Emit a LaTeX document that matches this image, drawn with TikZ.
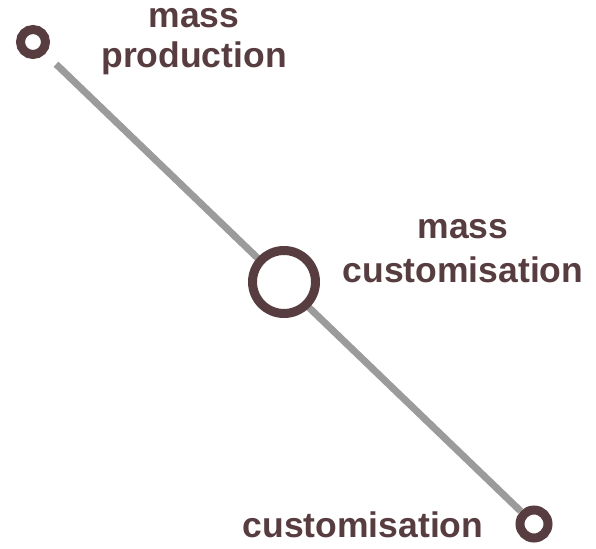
\documentclass[tikz,border=0pt]{standalone}
\usepackage{fontspec}
\setmainfont{Liberation Sans}
\usepackage{tikz}

\definecolor{ink}{HTML}{573C40}
\definecolor{track}{HTML}{9B9B9B}

\begin{document}
\begin{tikzpicture}[x=1pt,y=-1pt,
    ring/.style={circle,draw=ink,fill=white,line width=9pt,inner sep=0pt,minimum size=25pt},
    lab/.style={text=ink,font=\bfseries\fontsize{35.5}{44}\selectfont,align=center,inner sep=0pt}]

\useasboundingbox (0,0) rectangle (596,548);

\coordinate (0) at (33,42);
\coordinate (1) at (284,282);
\coordinate (2) at (534,524);

% small rings at both ends, the line runs between them
\node[ring] (p0) at (0) {};
\node[ring,minimum size=28pt] (p2) at (2) {};
\draw[track,line width=7pt,shorten <=15pt,shorten >=0pt] (p0) -- (p2);

% big ring sits on top of the line
\node[ring,minimum size=63pt] (p1) at (1) {};

\node[lab,anchor=base,font=\bfseries\fontsize{35.5}{40}\selectfont] (l0) at (194,68) {mass\\production};
\node[lab,anchor=base] (l1) at (463,282) {mass\\customisation};
\node[lab,anchor=base] (l2) at (363,537) {customisation};

\end{tikzpicture}
\end{document}
